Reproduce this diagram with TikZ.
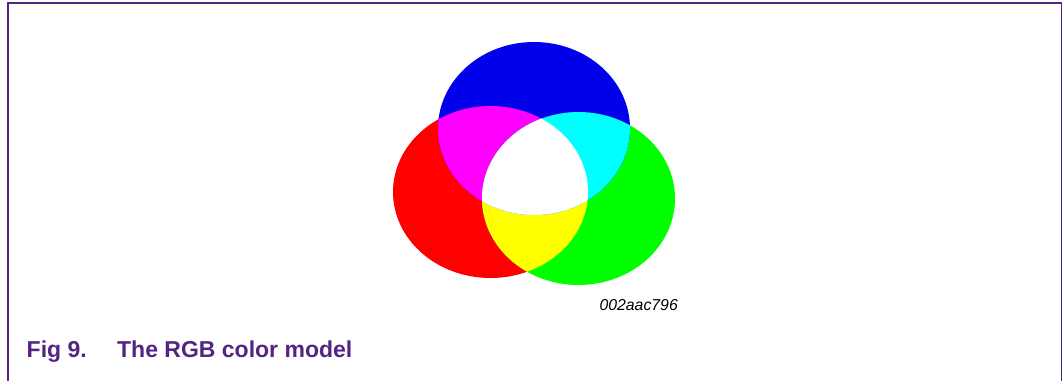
\documentclass[tikz,border=0pt]{standalone}
\usepackage{fontspec}
\setmainfont{Liberation Sans}
\usetikzlibrary{positioning}
\definecolor{nxppurple}{RGB}{84,36,132}
\definecolor{addred}{RGB}{255,0,0}
\definecolor{addgreen}{RGB}{0,255,0}
\definecolor{addblue}{RGB}{0,0,235}
\definecolor{addcyan}{RGB}{0,255,255}
\definecolor{addmagenta}{RGB}{255,0,255}
\definecolor{addyellow}{RGB}{255,255,0}
\tikzset{
    % frame round the figure (open at the bottom)
    frameline/.style={draw=nxppurple, line width=1.8pt},
    % figure code and caption
    codelbl/.style={font=\fontsize{15.8}{18}\selectfont\itshape, text=black, inner sep=0pt},
    captxt/.style={font=\fontsize{23}{27}\selectfont\bfseries, text=nxppurple, inner sep=0pt},
}
% the three discs of the colour model
\def\reddisc{(490.5,192) ellipse [x radius=97.5, y radius=86]}
\def\greendisc{(578.5,198.5) ellipse [x radius=96.5, y radius=86.5]}
\def\bluedisc{(534,128.5) ellipse [x radius=96, y radius=86.5]}
\begin{document}
\begin{tikzpicture}[x=1pt,y=-1pt]
  \useasboundingbox (0,0) rectangle (1063,381);
  \draw[frameline] (8.3,381) -- (8.3,3.3) -- (1061.5,3.3) -- (1061.5,381);

  % primaries
  \fill[addred]   \reddisc;
  \fill[addgreen] \greendisc;
  \fill[addblue]  \bluedisc;
  % pairwise mixes
  \begin{scope}
    \clip \reddisc;
    \fill[addyellow]  \greendisc;
    \fill[addmagenta] \bluedisc;
  \end{scope}
  \begin{scope}
    \clip \greendisc;
    \fill[addcyan] \bluedisc;
  \end{scope}
  % all three
  \begin{scope}
    \clip \reddisc;
    \clip \greendisc;
    \fill[white] \bluedisc;
  \end{scope}

  \node[codelbl, anchor=base east] (code) at (678,310) {002aac796};

  \node[captxt, anchor=base west] (fignum) at (26.5,357) {Fig 9.};
  \node[captxt, base right=30pt of fignum] (figtitle) {The RGB color model};
\end{tikzpicture}
\end{document}
